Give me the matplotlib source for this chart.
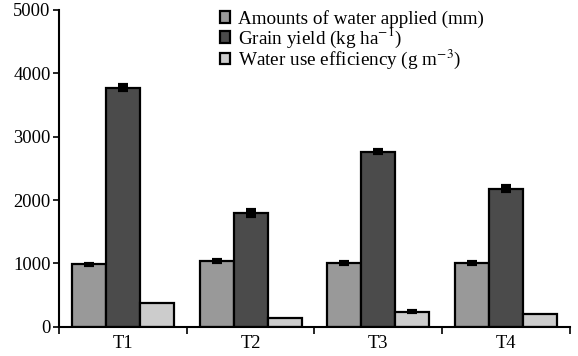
import numpy as np
import matplotlib
matplotlib.use("Agg")
import matplotlib.pyplot as plt

plt.rcParams['font.family'] = ['Liberation Serif', 'DejaVu Serif']
plt.rcParams['mathtext.fontset'] = 'stix'

# data
treatments = ["T1", "T2", "T3", "T4"]
water_applied = [985, 1035, 1010, 1010]
water_err = [12, 18, 12, 12]
grain_yield = [3775, 1800, 2765, 2180]
grain_err = [40, 50, 30, 35]
wue = [380, 140, 240, 205]
wue_err = [0, 0, 10, 0]

series_labels = ["Amounts of water applied (mm)",
                 r"Grain yield (kg ha$^{-1}$)",
                 r"Water use efficiency (g m$^{-3}$)"]
colors = ["#999999", "#4b4b4b", "#cccccc"]

fig = plt.figure(figsize=(5.78, 3.56), dpi=100)
ax = fig.add_axes([0.102, 0.082, 0.884, 0.89])

x = np.arange(len(treatments))
w = 0.266
vals = [water_applied, grain_yield, wue]
errs = [water_err, grain_err, wue_err]
for i in range(3):
    pos = x + (i - 1) * w
    ax.bar(pos, vals[i], w, color=colors[i], edgecolor="black",
           linewidth=1.6, label=series_labels[i], zorder=2)
    # only draw error bars that are visible in the original
    keep = np.array(errs[i]) > 0
    ax.errorbar(pos[keep], np.array(vals[i])[keep], yerr=np.array(errs[i])[keep],
                fmt="none", ecolor="black", elinewidth=2, capsize=3.5,
                capthick=3, zorder=3)

ax.set_xlim(-0.5, 3.5)
ax.set_ylim(0, 5000)
ax.set_yticks(range(0, 5001, 1000))
ax.tick_params(axis="y", labelsize=13.3, length=4, width=1.2, direction="out", pad=2)

ax.set_xticks(np.arange(-0.5, 4.0, 1.0))
ax.set_xticklabels([])
ax.set_xticks(x, minor=True)
ax.set_xticklabels(treatments, minor=True)
ax.tick_params(axis="x", which="major", length=5, width=1.2, direction="out")
ax.tick_params(axis="x", which="minor", length=0, labelsize=13.3, pad=6)

for s in ["top", "right"]:
    ax.spines[s].set_visible(False)
ax.spines["left"].set_linewidth(1.5)
ax.spines["bottom"].set_linewidth(1.5)

leg = ax.legend(loc="upper left", bbox_to_anchor=(0.30, 1.025), frameon=False,
                fontsize=13.8, handlelength=0.55, handleheight=0.55,
                handletextpad=0.4, labelspacing=-0.1, borderaxespad=0)

fig.savefig("out.png", dpi=100)
